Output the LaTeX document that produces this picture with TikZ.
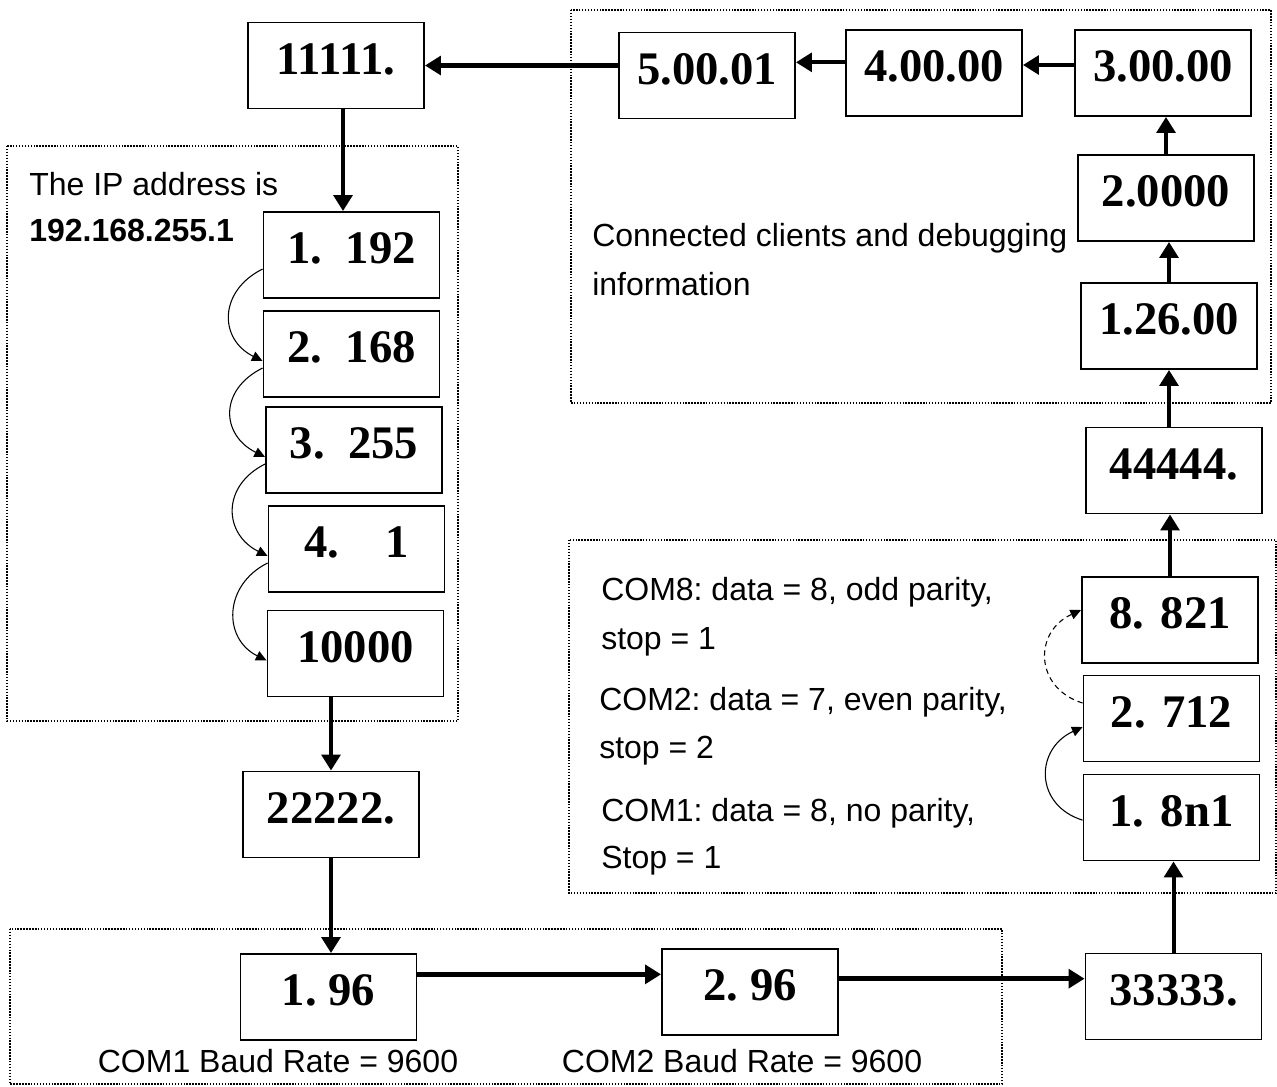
\documentclass[tikz,border=0pt]{standalone}
\usepackage{fontspec}
\setmainfont{Liberation Sans}
\newfontfamily\digitfont{Liberation Serif}
\usetikzlibrary{arrows.meta}
\frenchspacing

\begin{document}
\begin{tikzpicture}[x=0.75pt, y=-0.75pt,
    stage/.style={draw, line width=1.4pt, minimum width=132pt, minimum height=64.5pt,
        inner sep=0pt, text depth=10pt, font=\digitfont\bfseries\fontsize{35}{40}\selectfont},
    note/.style={anchor=west, inner sep=0pt, text height=17pt, text depth=5pt,
        font=\fontsize{24}{28}\selectfont},
    zone/.style={line width=1.1pt, dash pattern=on 1.1pt off 1.1pt},
    bigarrow/.style={line width=3pt, -{Triangle[length=12pt,width=14pt]}},
    hop/.style={line width=0.8pt, -{Triangle[length=8pt,width=7.5pt]}}]
    \useasboundingbox (0,0) rectangle (1277,1086);

    \draw[zone] (571,10) rectangle (1271,403);
    \draw[zone] (7,146) rectangle (458,721);
    \draw[zone] (569,540) rectangle (1276,893);
    \draw[zone] (10,929) rectangle (1002,1084);

    \node[stage] (b11111) at (336,65.5) {11111.};
    \node[stage] (b5001) at (707,75.5) {5.00.01};
    \node[stage] (b4000) at (934,73) {4.00.00};
    \node[stage] (b3000) at (1163,73) {3.00.00};
    \node[stage] (b2000) at (1166,198) {2.0000};
    \node[stage] (b126) at (1169,326) {1.26.00};
    \node[stage] (b44444) at (1174,470.5) {44444.};
    \node[stage] (b821) at (1170,620) {8.\hspace{0.35em}821};
    \node[stage] (b712) at (1171.5,718.5) {2.\hspace{0.35em}712};
    \node[stage] (b8n1) at (1171.5,817.5) {1.\hspace{0.35em}8n1};
    \node[stage] (b33333) at (1173.5,996.5) {33333.};
    \node[stage] (b96a) at (328.5,997) {1.\hspace{0.25em}96};
    \node[stage] (b96b) at (750,992) {2.\hspace{0.25em}96};
    \node[stage] (b22222) at (331,814.5) {22222.};
    \node[stage] (b10000) at (355.5,653.5) {10000};
    \node[stage] (b1) at (356.5,549) {4.\hspace{1em}1};
    \node[stage] (b255) at (354,450) {3.\hspace{0.5em}255};
    \node[stage] (b168) at (351.5,354) {2.\hspace{0.5em}168};
    \node[stage] (b192) at (351.5,255) {1.\hspace{0.5em}192};

    \node[note] (ipnote) at (29,187) {The IP address is};
    \node[note, font=\bfseries\fontsize{24}{28}\selectfont] (ipvalue) at (29,233) {192.168.255.1};
    \node[note] (debugnote) at (592,238) {Connected clients and debugging};
    \node[note] (debugmore) at (592,287) {information};
    \node[note] (com8a) at (601,592) {COM8: data = 8, odd parity,};
    \node[note] (com8b) at (601,641) {stop = 1};
    \node[note] (com2a) at (599,702) {COM2: data = 7, even parity,};
    \node[note] (com2b) at (599,750) {stop = 2};
    \node[note] (com1a) at (601,813) {COM1: data = 8, no parity,};
    \node[note] (com1b) at (601,860) {Stop = 1};
    \node[note, anchor=center] (baud1) at (278,1064) {COM1 Baud Rate = 9600};
    \node[note, anchor=center] (baud2) at (742,1064) {COM2 Baud Rate = 9600};

    % main chain
    \coordinate (t0) at ([xshift=5.25pt]b11111.south);
    \coordinate (t1) at ([yshift=8pt]b4000.west);
    \coordinate (t2) at ([yshift=6pt]b3000.west);
    \coordinate (t3) at ([yshift=17pt]b96a.east);
    \coordinate (t4) at ([yshift=10pt]b96b.east);
    \draw[bigarrow, line width=3.6pt] (b5001.west |- b11111.east) -- (b11111.east);
    \draw[bigarrow] (t1) -- (t1 -| b5001.east);
    \draw[bigarrow] (t2) -- (t2 -| b4000.east);
    \draw[bigarrow, line width=3.6pt] (t0) -- (t0 |- b192.north);
    \draw[bigarrow, line width=3.6pt] (b22222.north |- b10000.south) -- (b22222.north);
    \draw[bigarrow, line width=3.6pt] (b22222.south) -- (b22222.south |- b96a.north);
    \draw[bigarrow, line width=3.9pt] (t3) -- (t3 -| b96b.west);
    \draw[bigarrow, line width=3.9pt] (t4) -- (t4 -| b33333.west);
    \draw[bigarrow] (b33333.north) -- (b33333.north |- b8n1.south);
    \draw[bigarrow] (b821.north) -- (b821.north |- b44444.south);
    \draw[bigarrow] (b44444.north -| b126.south) -- (b126.south);
    \draw[bigarrow] (b126.north) -- (b126.north |- b2000.south);
    \draw[bigarrow] (b2000.north) -- (b2000.north |- b3000.south);

    % address and port steps
    \foreach \a/\b in {b192/b168, b168/b255, b255/b1, b1/b10000}
        \draw[hop] ([yshift=-10.5pt]\a.west) .. controls +(-44,22) and +(-44,-22) .. ([yshift=-5.25pt]\b.west);
    \draw[hop] ([yshift=-2pt]b8n1.west) .. controls +(-48,-15) and +(-48,22) .. ([yshift=-6.4pt]b712.west);
    \draw[hop, dash pattern=on 4pt off 3pt] ([yshift=11.6pt]b712.west) .. controls +(-48,-15) and +(-48,22) .. ([yshift=7.5pt]b821.west);
\end{tikzpicture}
\end{document}
